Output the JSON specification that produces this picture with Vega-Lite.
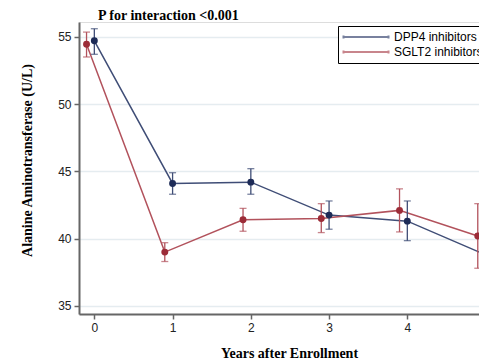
{
  "$schema": "https://vega.github.io/schema/vega-lite/v6.json",
  "width": 400,
  "height": 292,
  "autosize": "none",
  "padding": {"left": 79, "top": 22, "right": 0, "bottom": 48},
  "background": "white",
  "title": {
    "text": "P for interaction <0.001",
    "anchor": "start",
    "frame": "group",
    "dx": 19,
    "offset": -1,
    "font": "Liberation Serif",
    "fontSize": 14,
    "fontWeight": "bold",
    "color": "black"
  },
  "data": {
    "values": [
      {"group": "DPP4 inhibitors", "year": 0, "alt": 54.7, "lo": 53.7, "hi": 55.6},
      {"group": "DPP4 inhibitors", "year": 1, "alt": 44.1, "lo": 43.3, "hi": 44.9},
      {"group": "DPP4 inhibitors", "year": 2, "alt": 44.2, "lo": 43.3, "hi": 45.2},
      {"group": "DPP4 inhibitors", "year": 3, "alt": 41.75, "lo": 40.7, "hi": 42.8},
      {"group": "DPP4 inhibitors", "year": 4, "alt": 41.3, "lo": 39.85, "hi": 42.8},
      {"group": "DPP4 inhibitors", "year": 5, "alt": 38.8, "lo": 37.3, "hi": 40.3},
      {"group": "SGLT2 inhibitors", "year": 0, "alt": 54.45, "lo": 53.5, "hi": 55.35},
      {"group": "SGLT2 inhibitors", "year": 1, "alt": 39.0, "lo": 38.3, "hi": 39.7},
      {"group": "SGLT2 inhibitors", "year": 2, "alt": 41.4, "lo": 40.55, "hi": 42.25},
      {"group": "SGLT2 inhibitors", "year": 3, "alt": 41.5, "lo": 40.45, "hi": 42.6},
      {"group": "SGLT2 inhibitors", "year": 4, "alt": 42.1, "lo": 40.5, "hi": 43.7},
      {"group": "SGLT2 inhibitors", "year": 5, "alt": 40.2, "lo": 37.8, "hi": 42.6}
    ]
  },
  "encoding": {
    "x": {
      "field": "year",
      "type": "quantitative",
      "scale": {"domain": [-0.196, 4.916], "nice": false, "zero": false},
      "axis": {
        "title": "Years after Enrollment",
        "values": [0, 1, 2, 3, 4],
        "grid": false,
        "domainColor": "#666666",
        "domainWidth": 2,
        "tickColor": "#666666",
        "tickWidth": 1.5,
        "tickSize": 5,
        "labelFont": "Liberation Sans",
        "labelFontSize": 12,
        "labelColor": "#222222",
        "labelPadding": 3,
        "titleFont": "Liberation Serif",
        "titleFontSize": 14,
        "titleFontWeight": "bold",
        "titleColor": "black",
        "titleX": 210,
        "titleY": 43,
        "titleAnchor": "middle",
        "titleBaseline": "alphabetic"
      }
    },
    "color": {
      "field": "group",
      "type": "nominal",
      "scale": {"domain": ["DPP4 inhibitors", "SGLT2 inhibitors"], "range": ["#3f4d76", "#b2525c"]},
      "legend": {
        "title": null,
        "orient": "none",
        "legendX": 259,
        "legendY": 4,
        "direction": "vertical",
        "strokeColor": "black",
        "fillColor": "white",
        "padding": 5,
        "rowPadding": 3,
        "symbolType": "M-4.5,0H4.5M-4.5,-0.3V0.3M4.5,-0.3V0.3",
        "symbolSize": 100,
        "symbolOffset": 17,
        "symbolStrokeWidth": 2,
        "symbolFillColor": "transparent",
        "labelFont": "Liberation Sans",
        "labelFontSize": 12,
        "labelColor": "black",
        "labelOffset": 22
      }
    }
  },
  "layer": [
    {
      "mark": {"type": "line", "strokeWidth": 1.5, "xOffset": {"expr": "datum.group == 'SGLT2 inhibitors' ? -7.8 : 0"}},
      "encoding": {
        "y": {
          "field": "alt",
          "type": "quantitative",
          "scale": {"domain": [34.4, 56.1], "nice": false, "zero": false},
          "axis": {
            "title": "Alanine Aminotransferase (U/L)",
            "values": [35, 40, 45, 50, 55],
            "grid": true,
            "gridColor": "#e5ecf0",
            "gridWidth": 1.5,
            "domainColor": "#666666",
            "domainWidth": 2,
            "tickColor": "#666666",
            "tickWidth": 1.5,
            "tickSize": 5,
            "labelFont": "Liberation Sans",
            "labelFontSize": 12,
            "labelColor": "#222222",
            "labelPadding": 3,
            "titleFont": "Liberation Serif",
            "titleFontSize": 14,
            "titleFontWeight": "bold",
            "titleColor": "black",
            "titleX": -51.5,
            "titleY": 138,
            "titleAngle": -90,
            "titleAlign": "center",
            "titleBaseline": "middle"
          }
        }
      }
    },
    {
      "mark": {"type": "rule", "strokeWidth": 1.3, "xOffset": {"expr": "datum.group == 'SGLT2 inhibitors' ? -7.8 : 0"}},
      "encoding": {
        "y": {"field": "lo", "type": "quantitative"},
        "y2": {"field": "hi"}
      }
    },
    {
      "mark": {"type": "tick", "orient": "horizontal", "size": 7, "thickness": 1.3, "xOffset": {"expr": "datum.group == 'SGLT2 inhibitors' ? -7.8 : 0"}},
      "encoding": {"y": {"field": "lo", "type": "quantitative"}}
    },
    {
      "mark": {"type": "tick", "orient": "horizontal", "size": 7, "thickness": 1.3, "xOffset": {"expr": "datum.group == 'SGLT2 inhibitors' ? -7.8 : 0"}},
      "encoding": {"y": {"field": "hi", "type": "quantitative"}}
    },
    {
      "mark": {"type": "circle", "size": 48, "opacity": 1, "xOffset": {"expr": "datum.group == 'SGLT2 inhibitors' ? -7.8 : 0"}},
      "encoding": {
        "y": {"field": "alt", "type": "quantitative"},
        "fill": {
          "field": "group",
          "type": "nominal",
          "scale": {"domain": ["DPP4 inhibitors", "SGLT2 inhibitors"], "range": ["#1d2b57", "#9c2c38"]},
          "legend": null
        }
      }
    }
  ]
}
